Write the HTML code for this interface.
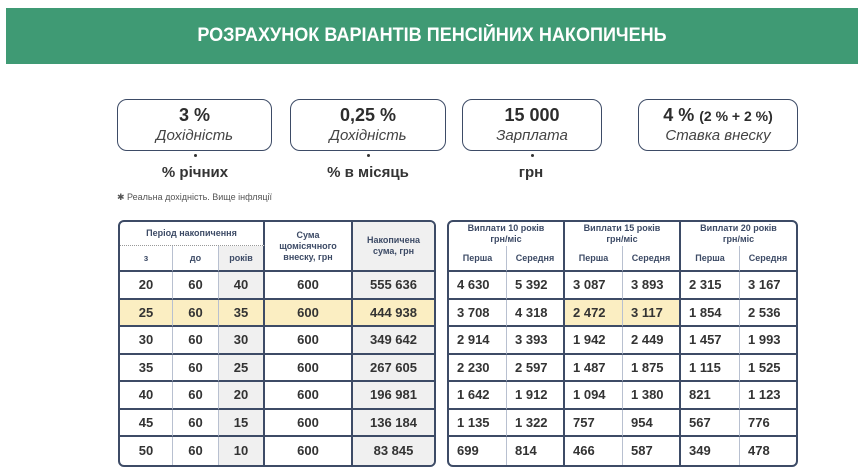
<!DOCTYPE html>
<html><head><meta charset="utf-8"><style>
*{margin:0;padding:0;box-sizing:border-box}
body{width:858px;height:476px;background:#fff;position:relative;overflow:hidden;font-family:"Liberation Sans","DejaVu Sans",sans-serif;color:#333}
.hdr{position:absolute;left:6px;top:8px;width:852px;height:56px;background:#3f9a74}
.hdr span{position:absolute;left:0;width:100%;top:17px;text-align:center;color:#fff;font-weight:bold;font-size:19px;transform:scaleX(0.95);letter-spacing:0}
.box{position:absolute;top:99px;height:52px;border:1.5px solid #3d4b66;border-radius:10px;text-align:center}
.box b{display:block;font-size:18px;margin-top:5px;color:#2d2d2d}
.box i{display:block;font-size:15px;color:#444;margin-top:1px}
.lbl{position:absolute;top:164px;font-size:15px;font-weight:bold;text-align:center;color:#333}
.dot{position:absolute;top:154px;width:3px;height:3px;border-radius:50%;background:#333}
.note{position:absolute;left:117px;top:192px;font-size:9px;color:#555}
table{position:absolute;border-collapse:separate;border-spacing:0;border:2px solid #3d4b66;border-radius:6px;overflow:hidden;table-layout:fixed}
td{border-right:1px solid #b8c0d0;border-bottom:2px solid #3d4b66;font-size:13px;font-weight:bold;text-align:center;height:27.5px;color:#333}
tr:last-child td{border-bottom:none}
td:last-child{border-right:none}
.h td{font-size:9px;color:#3d4b66;height:auto;line-height:11px}
.g{background:#f0f0f0}
.y{background:#fbeec2}
#r td{text-align:left;padding-left:8px}
</style></head><body>
<div class="hdr"><span>РОЗРАХУНОК ВАРІАНТІВ ПЕНСІЙНИХ НАКОПИЧЕНЬ</span></div>

<div class="box" style="left:117px;width:155px"><b>3 %</b><i>Дохідність</i></div>
<div class="box" style="left:290px;width:156px"><b>0,25 %</b><i>Дохідність</i></div>
<div class="box" style="left:462px;width:140px"><b>15 000</b><i>Зарплата</i></div>
<div class="box" style="left:638px;width:160px"><b>4 % <span style="font-size:14px">(2 % + 2 %)</span></b><i>Ставка внеску</i></div>
<div class="dot" style="left:194px"></div><div class="dot" style="left:367px"></div><div class="dot" style="left:531px"></div>
<div class="lbl" style="left:140px;width:110px">% річних</div>
<div class="lbl" style="left:310px;width:116px">% в місяць</div>
<div class="lbl" style="left:500px;width:62px">грн</div>
<div class="note">✱ Реальна дохідність. Вище інфляції</div>

<table style="left:118px;top:220px;width:318px">
<colgroup><col style="width:53px"><col style="width:46px"><col style="width:46px"><col style="width:88px"><col style="width:81px"></colgroup>
<tr class="h"><td colspan="3" style="height:24px;border-bottom:1px dotted #999;border-right:2px solid #3d4b66">Період накопичення</td><td rowspan="2" style="border-right:2px solid #3d4b66">Сума<br>щомісячного<br>внеску, грн</td><td rowspan="2" class="g">Накопичена<br>сума, грн</td></tr>
<tr class="h"><td style="height:26px">з</td><td>до</td><td class="g" style="border-right:2px solid #3d4b66">років</td></tr>
<tr><td>20</td><td>60</td><td class="g" style="border-right:2px solid #3d4b66">40</td><td style="border-right:2px solid #3d4b66">600</td><td class="g">555 636</td></tr>
<tr class="y"><td class="y">25</td><td class="y">60</td><td class="y" style="border-right:2px solid #3d4b66">35</td><td class="y" style="border-right:2px solid #3d4b66">600</td><td class="y">444 938</td></tr>
<tr><td>30</td><td>60</td><td class="g" style="border-right:2px solid #3d4b66">30</td><td style="border-right:2px solid #3d4b66">600</td><td class="g">349 642</td></tr>
<tr><td>35</td><td>60</td><td class="g" style="border-right:2px solid #3d4b66">25</td><td style="border-right:2px solid #3d4b66">600</td><td class="g">267 605</td></tr>
<tr><td>40</td><td>60</td><td class="g" style="border-right:2px solid #3d4b66">20</td><td style="border-right:2px solid #3d4b66">600</td><td class="g">196 981</td></tr>
<tr><td>45</td><td>60</td><td class="g" style="border-right:2px solid #3d4b66">15</td><td style="border-right:2px solid #3d4b66">600</td><td class="g">136 184</td></tr>
<tr><td>50</td><td>60</td><td class="g" style="border-right:2px solid #3d4b66">10</td><td style="border-right:2px solid #3d4b66">600</td><td class="g">83 845</td></tr>
</table>

<table id="r" style="left:447px;top:220px;width:351px">
<colgroup><col style="width:58px"><col style="width:58px"><col style="width:58px"><col style="width:58px"><col style="width:59px"><col style="width:56px"></colgroup>
<tr class="h"><td colspan="2" style="height:24px;text-align:center;padding:0;border-bottom:none;border-right:2px solid #3d4b66">Виплати 10 років<br>грн/міс</td><td colspan="2" style="text-align:center;padding:0;border-bottom:none;border-right:2px solid #3d4b66">Виплати 15 років<br>грн/міс</td><td colspan="2" style="text-align:center;padding:0;border-bottom:none">Виплати 20 років<br>грн/міс</td></tr>
<tr class="h"><td style="height:26px;text-align:center;padding:0">Перша</td><td style="text-align:center;padding:0;border-right:2px solid #3d4b66">Середня</td><td style="text-align:center;padding:0">Перша</td><td style="text-align:center;padding:0;border-right:2px solid #3d4b66">Середня</td><td style="text-align:center;padding:0">Перша</td><td style="text-align:center;padding:0">Середня</td></tr>
<tr><td>4 630</td><td style="border-right:2px solid #3d4b66">5 392</td><td>3 087</td><td style="border-right:2px solid #3d4b66">3 893</td><td>2 315</td><td>3 167</td></tr>
<tr><td>3 708</td><td style="border-right:2px solid #3d4b66">4 318</td><td class="y">2 472</td><td class="y" style="border-right:2px solid #3d4b66">3 117</td><td>1 854</td><td>2 536</td></tr>
<tr><td>2 914</td><td style="border-right:2px solid #3d4b66">3 393</td><td>1 942</td><td style="border-right:2px solid #3d4b66">2 449</td><td>1 457</td><td>1 993</td></tr>
<tr><td>2 230</td><td style="border-right:2px solid #3d4b66">2 597</td><td>1 487</td><td style="border-right:2px solid #3d4b66">1 875</td><td>1 115</td><td>1 525</td></tr>
<tr><td>1 642</td><td style="border-right:2px solid #3d4b66">1 912</td><td>1 094</td><td style="border-right:2px solid #3d4b66">1 380</td><td>821</td><td>1 123</td></tr>
<tr><td>1 135</td><td style="border-right:2px solid #3d4b66">1 322</td><td>757</td><td style="border-right:2px solid #3d4b66">954</td><td>567</td><td>776</td></tr>
<tr><td>699</td><td style="border-right:2px solid #3d4b66">814</td><td>466</td><td style="border-right:2px solid #3d4b66">587</td><td>349</td><td>478</td></tr>
</table>
</body></html>
